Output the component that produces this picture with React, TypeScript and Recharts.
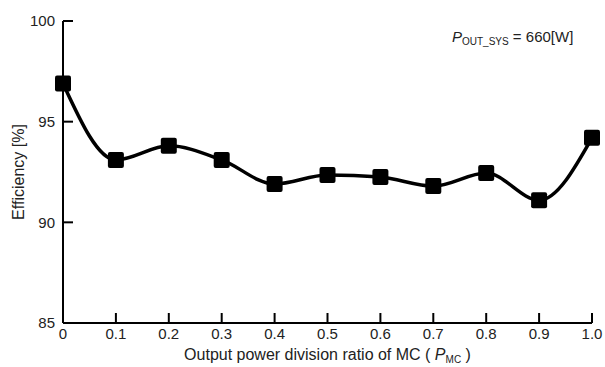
import { LineChart, Line, XAxis, YAxis, Customized } from 'recharts'

const ratios = [0, 0.1, 0.2, 0.3, 0.4, 0.5, 0.6, 0.7, 0.8, 0.9, 1.0]
const efficiency = [96.9, 93.1, 93.8, 93.1, 91.9, 92.35, 92.25, 91.8, 92.45, 91.1, 94.2]
const xTicks = [0, 0.1, 0.2, 0.3, 0.4, 0.5, 0.6, 0.7, 0.8, 0.9, 1.0]
const yTicks = [85, 90, 95, 100]

const data = ratios.map((r, i) => ({ ratio: r, eff: efficiency[i] }))

const FONT = '"Liberation Sans", Arial, sans-serif'
const TEXT_COLOR = '#222'

const SquareDot = (props: any) => {
  const { cx, cy } = props
  if (cx == null || cy == null) return null
  return <rect x={cx - 8} y={cy - 8} width={16} height={16} rx={2} fill="#000" />
}

const Annotation = () => (
  <text x={452} y={42} fontFamily={FONT} fontSize={15} fill={TEXT_COLOR}>
    <tspan fontStyle="italic">P</tspan>
    <tspan fontSize={10} dy={3}>OUT_SYS</tspan>
    <tspan dy={-3}> = 660[W]</tspan>
  </text>
)

const XLabel = (props: any) => {
  const { viewBox } = props
  const cx = viewBox.x + viewBox.width / 2
  return (
    <text x={cx} y={360} textAnchor="middle" fontFamily={FONT} fontSize={16} fill={TEXT_COLOR}>
      Output power division ratio of MC (
      <tspan fontStyle="italic"> P</tspan>
      <tspan fontSize={10} dy={3}>MC</tspan>
      <tspan dy={-3}> )</tspan>
    </text>
  )
}

export default function App() {
  return (
    <div style={{ position: 'absolute', left: 0, top: 0, width: 605, height: 367, background: '#fff' }}>
      <LineChart width={605} height={367} data={data} margin={{ top: 21, right: 13, bottom: 0, left: 0 }}>
        <XAxis
          dataKey="ratio"
          type="number"
          domain={[0, 1]}
          ticks={xTicks}
          tickFormatter={(v: number) => (v === 0 ? '0' : v.toFixed(1))}
          height={44}
          tickSize={-10}
          tickMargin={15}
          axisLine={{ stroke: '#000', strokeWidth: 2 }}
          tickLine={{ stroke: '#000', strokeWidth: 2 }}
          tick={{ fontFamily: FONT, fontSize: 15, fill: TEXT_COLOR }}
          label={<XLabel />}
        />
        <YAxis
          type="number"
          domain={[85, 100]}
          ticks={yTicks}
          width={63}
          tickSize={-10}
          tickMargin={18}
          axisLine={{ stroke: '#000', strokeWidth: 2 }}
          tickLine={{ stroke: '#000', strokeWidth: 2 }}
          tick={{ fontFamily: FONT, fontSize: 15, fill: TEXT_COLOR }}
          label={{
            value: 'Efficiency [%]',
            angle: -90,
            position: 'insideLeft',
            offset: 18,
            style: { textAnchor: 'middle', fontFamily: FONT, fontSize: 16, fill: TEXT_COLOR },
          }}
        />
        <Line
          type="monotone"
          dataKey="eff"
          stroke="#000"
          strokeWidth={3.5}
          dot={<SquareDot />}
          activeDot={false}
          isAnimationActive={false}
        />
        <Customized component={Annotation} />
      </LineChart>
    </div>
  )
}
